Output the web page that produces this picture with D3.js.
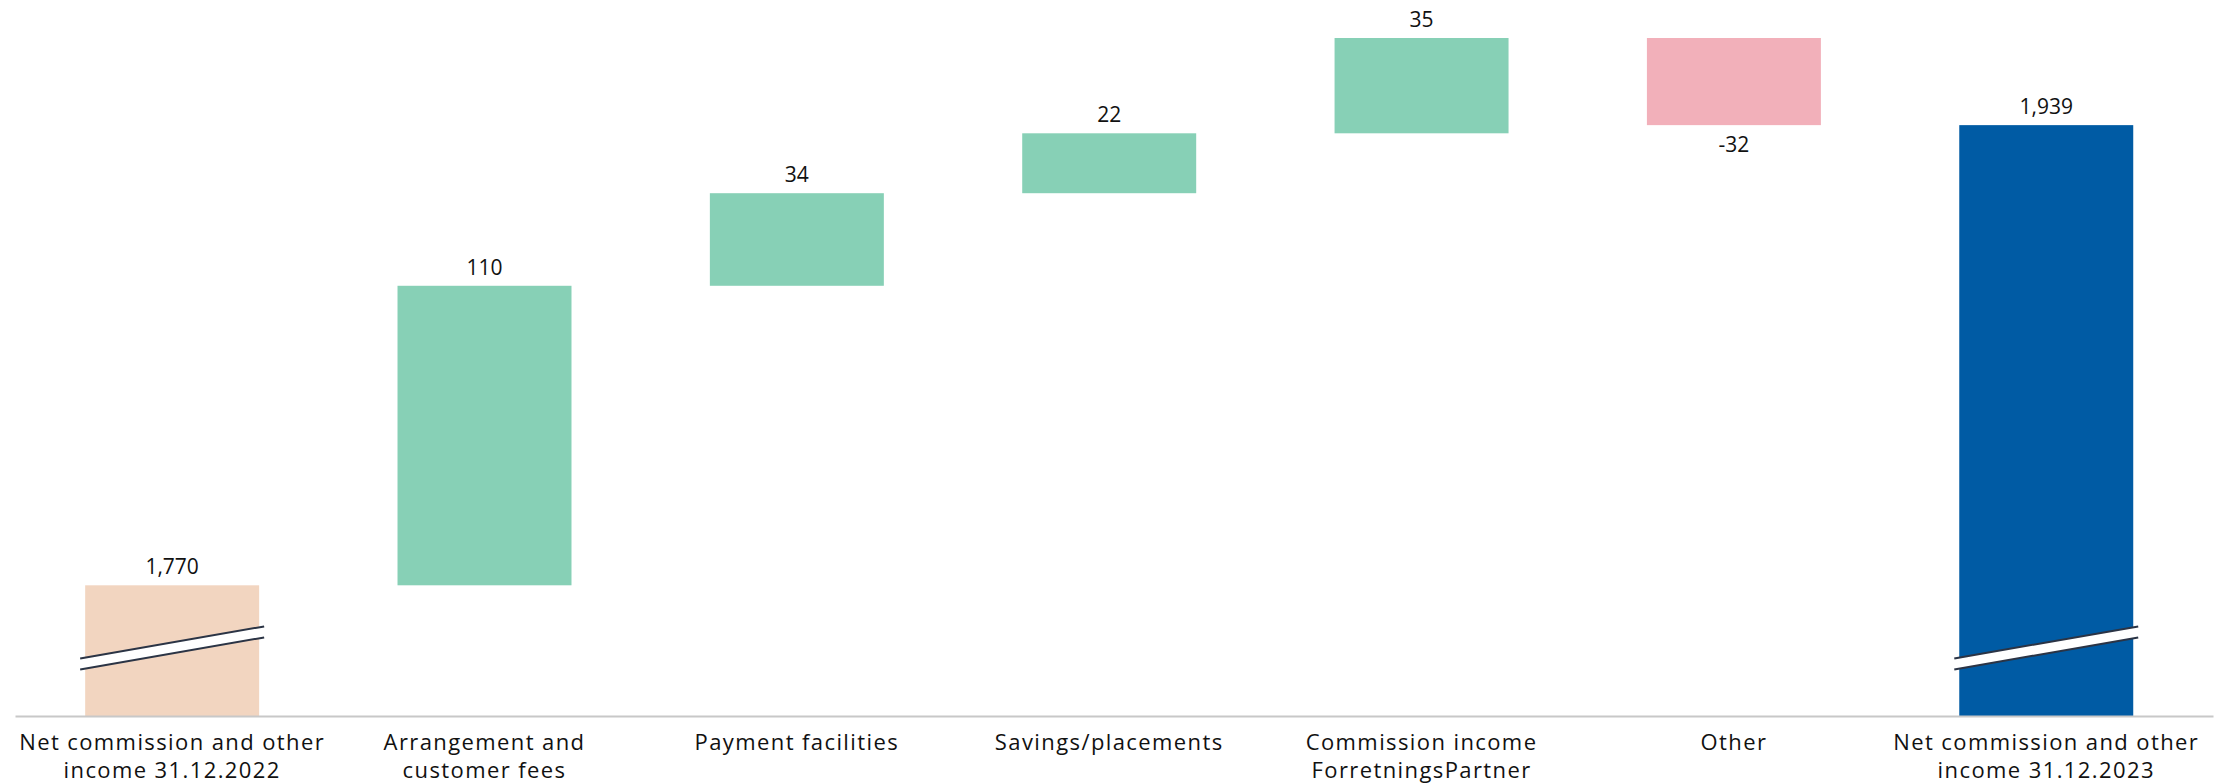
<!DOCTYPE html>
<html>
<head>
<meta charset="utf-8">
<script src="https://cdn.jsdelivr.net/npm/d3@7"></script>
<style>
    html, body { margin: 0; padding: 0; background: #fff; }
    text { font-family: "Open Sans", "Noto Sans", sans-serif; fill: #111; }
</style>
</head>
<body>
<div id="chart"></div>
<script>
// Data
const categories = [
    ["Net commission and other", "income 31.12.2022"],
    ["Arrangement and", "customer fees"],
    ["Payment facilities"],
    ["Savings/placements"],
    ["Commission income", "ForretningsPartner"],
    ["Other"],
    ["Net commission and other", "income 31.12.2023"]
];
const values = [1770, 110, 34, 22, 35, -32, 1939];
const kinds = ["start", "delta", "delta", "delta", "delta", "delta", "end"];

// axis is broken: it starts near 1722, bars on the totals get a break mark
const axisBase = 1722;
const breakValue = 1747;

const width = 2227;
const height = 784;

const colors = {
    start: "#f2d5c0",
    up: "#87d0b6",
    down: "#f2b0ba",
    end: "#005ba4"
};

// Build waterfall steps
let running = 0;
const steps = values.map((v, i) => {
    let lo, hi;
    if (kinds[i] === "start" || kinds[i] === "end") {
        lo = axisBase;
        hi = v;
        running = v;
    } else {
        const prev = running;
        running = prev + v;
        lo = Math.min(prev, running);
        hi = Math.max(prev, running);
    }
    return { i, v, lo, hi, kind: kinds[i] };
});

const maxTop = d3.max(steps, d => d.hi);

const x = d3.scaleBand()
    .domain(categories.map((c, i) => i))
    .range([15, 2213])
    .paddingInner(0.443)
    .paddingOuter(0.24)
    .align(0.468);

const y = d3.scaleLinear()
    .domain([axisBase, maxTop])
    .range([716, 38]);

const svg = d3.select("#chart").append("svg")
    .attr("width", width)
    .attr("height", height)
    .style("background-color", "white");

function barColor(d) {
    if (d.kind === "start") return colors.start;
    if (d.kind === "end") return colors.end;
    return d.v >= 0 ? colors.up : colors.down;
}

svg.selectAll("rect.bar")
    .data(steps)
    .enter()
    .append("rect")
    .attr("class", "bar")
    .attr("x", d => x(d.i))
    .attr("width", x.bandwidth())
    .attr("y", d => y(d.hi))
    .attr("height", d => y(d.lo) - y(d.hi))
    .attr("fill", barColor);

// Break marks on the two total bars
const breakBars = steps.filter(d => d.kind !== "delta");
const over = 5, slope = 16, gap = 5.5;
breakBars.forEach(d => {
    const x0 = x(d.i) - over;
    const x1 = x(d.i) + x.bandwidth() + over;
    const yc = y(breakValue);
    const g = svg.append("g");
    g.append("path")
        .attr("d", `M${x0},${yc + slope - gap}L${x1},${yc - slope - gap}L${x1},${yc - slope + gap}L${x0},${yc + slope + gap}Z`)
        .attr("fill", "white");
    [-gap, gap].forEach(off => {
        g.append("line")
            .attr("x1", x0).attr("y1", yc + slope + off)
            .attr("x2", x1).attr("y2", yc - slope + off)
            .attr("stroke", "#2b3445")
            .attr("stroke-width", 2);
    });
});

// Value labels (plain hyphen for negatives, like the original)
const locale = d3.formatLocale({ decimal: ".", thousands: ",", grouping: [3], currency: ["$", ""], minus: "-" });
const fmt = locale.format(",");
svg.selectAll("text.value")
    .data(steps)
    .enter()
    .append("text")
    .attr("class", "value")
    .attr("x", d => x(d.i) + x.bandwidth() / 2)
    .attr("y", d => d.kind === "delta" && d.v < 0 ? y(d.lo) + 27 : y(d.hi) - 11)
    .attr("text-anchor", "middle")
    .style("font-size", "21px")
    .text(d => fmt(d.v));

// Category axis
const axis = svg.append("g")
    .attr("transform", `translate(0,${y(axisBase)})`)
    .call(d3.axisBottom(x).tickSize(0).tickFormat(""));

axis.select(".domain")
    .attr("stroke", "#c8c8c8")
    .attr("stroke-width", 2);

axis.selectAll(".tick text").remove();
axis.selectAll(".tick").each(function(i) {
    const t = d3.select(this).append("text")
        .attr("text-anchor", "middle")
        .attr("y", 34)
        .style("font-size", "22px")
        .style("letter-spacing", "1.4px")
        .attr("fill", "#111");
    categories[i].forEach((line, k) => {
        t.append("tspan")
            .attr("x", 0)
            .attr("dy", k === 0 ? 0 : 28)
            .text(line);
    });
});
</script>
</body>
</html>
